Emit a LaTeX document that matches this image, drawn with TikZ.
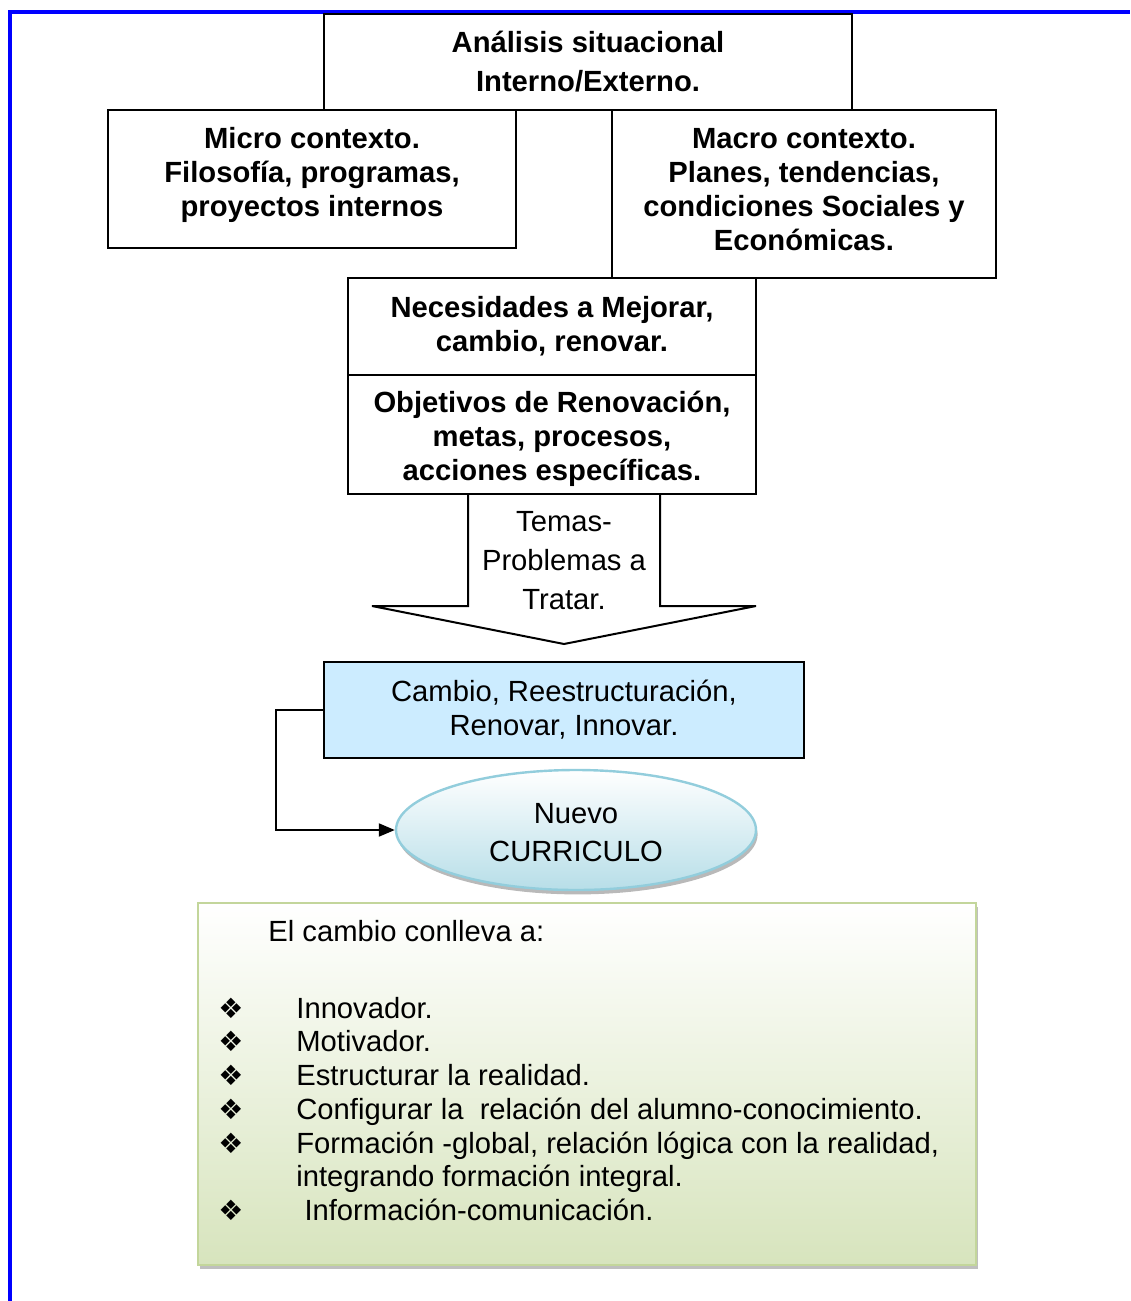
\documentclass[tikz,border=0pt]{standalone}
\usepackage{fontspec}
\setmainfont{Liberation Sans}
\newfontfamily\dingfont{DejaVu Sans}
\usepackage{xcolor}
\usepackage{tikz}
\usetikzlibrary{shapes.geometric, arrows.meta, shadows, positioning}

\definecolor{marcoazul}{RGB}{0,0,255}
\definecolor{cambiofondo}{RGB}{204,236,255}
\definecolor{elipseborde}{RGB}{146,205,220}
\definecolor{elipsefondo}{RGB}{183,222,232}
\definecolor{verdeborde}{RGB}{195,214,155}
\definecolor{verdefondo}{RGB}{215,228,189}

\begin{document}
\begin{tikzpicture}[x=0.5pt, y=-0.5pt,
        caja/.style={draw, rectangle, line width=1pt, outer sep=0pt, inner sep=2pt, align=center,
                     font=\fontsize{14.6}{17}\selectfont\bfseries},
        negrita/.style={inner sep=0pt, align=center, font=\fontsize{14.6}{17}\selectfont\bfseries},
        normal/.style={font=\fontsize{14.6}{17}\selectfont},
        texto/.style={normal, inner sep=0pt},
        vineta/.style={font=\dingfont\fontsize{14}{16}\selectfont, inner sep=0pt}]

        \useasboundingbox (0,0) rectangle (1130,1301);
        \draw[marcoazul, line width=1.6pt] (10,1301) -- (10,12) -- (1130,12);

        \node[caja, font=\fontsize{14.6}{19.5}\selectfont\bfseries, minimum width=264pt, minimum height=48pt] (analisis) at (588,62) {Análisis situacional\\Interno/Externo.};

        \node[caja, minimum width=204pt, minimum height=69pt] (micro) at (312,179) {};
        \node[negrita] (micro texto) at ([yshift=2pt]micro.center) {Micro contexto.\\Filosofía, programas,\\proyectos internos};

        \node[caja, minimum width=192pt, minimum height=84pt] (macro) at (804,194) {};
        \node[negrita] (macro texto) at ([yshift=2pt]macro.center) {Macro contexto.\\Planes, tendencias,\\condiciones Sociales y\\Económicas.};

        \node[caja, minimum width=204pt, minimum height=48.5pt] (necesidades) at (552,326.5) {Necesidades a Mejorar,\\cambio, renovar.};

        \node[caja, minimum width=204pt, minimum height=59.5pt, below=0pt of necesidades] (objetivos) {};
        \node[negrita] (objetivos texto) at ([yshift=-2pt]objetivos.center) {Objetivos de Renovación,\\metas, procesos,\\acciones específicas.};

        \draw[line width=1pt] (468,494) -- (468,606) -- (372,606) -- (564,644) -- (756,606) -- (660,606) -- (660,494);
        \node[texto, align=center, font=\fontsize{14.6}{19.5}\selectfont] (temas) at (564,561) {Temas-\\Problemas a\\Tratar.};

        \node[caja, normal, fill=cambiofondo, minimum width=240pt, minimum height=48pt] (cambio) at (564,710) {Cambio, Reestructuración,\\Renovar, Innovar.};

        \node[ellipse, draw=elipseborde, line width=1.2pt, top color=white, bottom color=elipsefondo,
              minimum width=180pt, minimum height=60pt, inner sep=0pt,
              drop shadow={shadow xshift=0.8pt, shadow yshift=-2.2pt, opacity=1, fill=gray!55}] (nuevo) at (576,830) {};
        \node[texto, align=center, font=\fontsize{14.6}{19}\selectfont] (nuevo texto) at ([yshift=-1.5pt]nuevo.center) {Nuevo\\CURRICULO};

        \draw[line width=1pt, -{Triangle[length=8pt, width=6.5pt]}] (cambio.west) -- ++(-48,0) |- (nuevo.west);

        \node[draw=verdeborde, line width=1.2pt, top color=white, bottom color=verdefondo,
              minimum width=389pt, minimum height=181pt,
              drop shadow={shadow xshift=1pt, shadow yshift=-2.2pt, opacity=1, fill=gray!50}] (conlleva) at (587,1084) {};

        \node[texto, anchor=base west] (titulo) at (268,941) {El cambio conlleva a:};
        \foreach \y/\txt [count=\i] in {1018/Innovador., 1051/Motivador., 1085/Estructurar la realidad.,
                1119/Configurar la\ \ relación del alumno-conocimiento.,
                1153/{Formación -global, relación lógica con la realidad,}, 1220/\ Información-comunicación.}
        {
            \node[vineta, anchor=base] (v\i) at (231,\y) {❖};
            \node[texto, anchor=base west] (item\i) at (296,\y) {\txt};
        }
        \node[texto, anchor=base west] (item5b) at (296,1186) {integrando formación integral.};

\end{tikzpicture}
\end{document}
